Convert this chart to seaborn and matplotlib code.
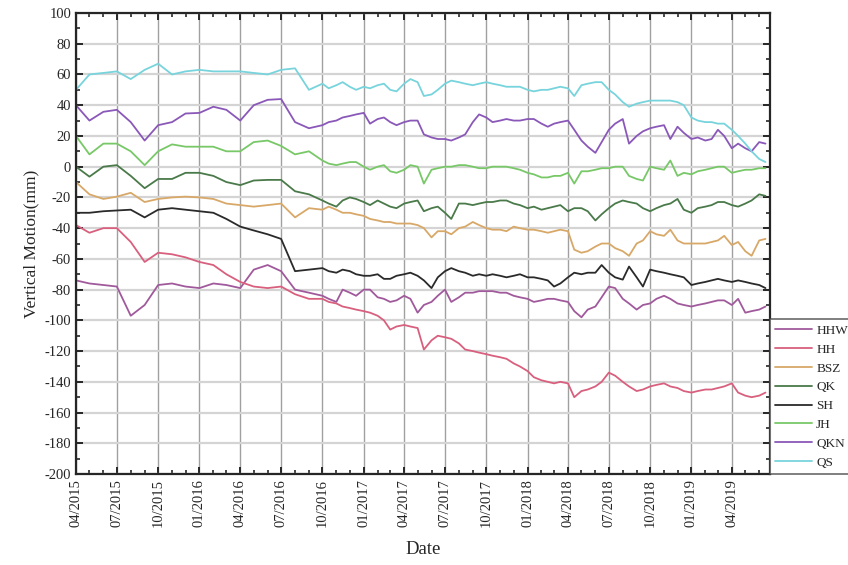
import matplotlib
matplotlib.use("Agg")
import matplotlib.pyplot as plt
import matplotlib.dates as mdates
from matplotlib.ticker import MultipleLocator
import pandas as pd
import seaborn as sns

# sampling dates: monthly until 09/2016, then twice a month
dates = list(pd.date_range("2015-04-01", "2016-09-01", freq="MS")) + \
        list(pd.date_range("2016-10-01", "2019-06-15", freq="SMS"))

stations = ["HHW", "HH", "BSZ", "QK", "SH", "JH", "QKN", "QS"]
colors = ["#a05a9c", "#d8607e", "#d8a868", "#4a7a4a", "#2a2a2a", "#78c868", "#8a58b8", "#78d4dc"]

hhw = [-74, -76, -77, -78, -97, -90, -77, -76, -78, -79, -76, -77, -79, -67, -64, -68, -80, -82,
       -84, -86, -88, -80, -82, -84,
       -80, -80, -85, -86, -88, -87,
       -84, -86, -95, -90, -88, -84,
       -80, -88, -85, -82, -82, -81,
       -81, -81, -82, -82, -84, -85,
       -86, -88, -87, -86, -86, -87,
       -88, -94, -98, -93, -91, -85,
       -78, -79, -86, -89, -93, -90,
       -89, -86, -84, -86, -89, -90,
       -91, -90, -89, -88, -87, -87,
       -90, -86, -95, -94, -93, -91]
hh = [-38, -43, -40, -40, -49, -62, -56, -57, -59, -62, -64, -70, -75, -78, -79, -78, -83, -86,
      -86, -88, -89, -91, -92, -93,
      -94, -95, -97, -100, -106, -104,
      -103, -104, -105, -119, -113, -110,
      -111, -112, -115, -119, -120, -121,
      -122, -123, -124, -125, -128, -130,
      -133, -137, -139, -140, -141, -140,
      -141, -150, -146, -145, -143, -140,
      -134, -136, -140, -143, -146, -145,
      -143, -142, -141, -143, -144, -146,
      -147, -146, -145, -145, -144, -143,
      -141, -147, -149, -150, -149, -147]
bsz = [-10, -18, -21, -19.5, -17, -23, -21, -20, -19.5, -20, -21, -24, -25, -26, -25, -24, -33, -27,
       -28, -26, -28, -30, -30, -31,
       -32, -34, -35, -36, -36, -37,
       -37, -37, -38, -40, -46, -42,
       -42, -44, -40, -39, -36, -38,
       -40, -41, -41, -42, -39, -40,
       -41, -41, -42, -43, -42, -41,
       -42, -54, -56, -55, -52, -50,
       -50, -53, -55, -58, -50, -48,
       -42, -44, -45, -41, -48, -50,
       -50, -50, -50, -49, -48, -45,
       -51, -49, -55, -58, -48, -47]
qk = [0, -6.5, 0, 1, -6, -14, -8, -8, -4, -4, -6, -10, -12, -9, -8.6, -8.6, -16, -18,
      -22, -24, -26, -22, -20, -21,
      -23, -25, -22, -24, -26, -27,
      -24, -23, -22, -29, -27, -26,
      -30, -34, -24, -24, -25, -24,
      -23, -23, -22, -22, -24, -25,
      -27, -26, -28, -27, -26, -25,
      -29, -27, -27, -29, -35, -31,
      -27, -24, -22, -23, -24, -27,
      -29, -27, -25, -24, -21, -28,
      -30, -27, -26, -25, -23, -23,
      -25, -26, -24, -22, -18, -19]
sh = [-30, -30, -29, -28.5, -28, -33, -28, -27, -28, -29, -30, -34, -39, -41.5, -44, -47, -68, -67,
      -66, -68, -69, -67, -68, -70,
      -71, -71, -70, -73, -73, -71,
      -70, -69, -71, -74, -79, -72,
      -68, -66, -68, -69, -71, -70,
      -71, -70, -71, -72, -71, -70,
      -72, -72, -73, -74, -78, -76,
      -72, -69, -70, -69, -69, -64,
      -69, -72, -73.5, -65, -72, -78,
      -67, -68, -69, -70, -71, -72,
      -77, -76, -75, -74, -73, -74,
      -75, -74, -75, -76, -77, -79]
jh = [20, 8, 15, 15, 10, 1, 10, 14.5, 13, 13, 13, 10, 10, 16, 17, 13.5, 8, 10,
      4, 2, 1, 2, 3, 3,
      0, -2, 0, 1, -3, -4,
      -2, 1, 0, -11, -2, -1,
      0, 0, 1, 1, 0, -1,
      -1, 0, 0, 0, -1, -2,
      -4, -5, -7, -7, -6, -6,
      -4, -11, -3, -3, -2, -1,
      -1, 0, 0, -6, -8, -9,
      0, -1, -2, 4, -6, -4,
      -5, -3, -2, -1, 0, 0,
      -4, -3, -2, -2, -1, -1]
qkn = [40, 30, 35.7, 37, 29, 17, 27, 29, 34.6, 35, 39, 37, 30, 40, 43.5, 44, 29, 25,
       27, 29, 30, 32, 33, 34,
       35, 28, 31, 32, 29, 27,
       29, 30, 30, 21, 19, 18,
       18, 17, 19, 21, 29, 34,
       32, 29, 30, 31, 30, 30,
       31, 31, 28, 26, 28, 29,
       30, 24, 17, 13, 9, 16,
       24, 28, 31, 15, 20, 23,
       25, 26, 27, 18, 26, 22,
       18, 19, 17, 18, 24, 20,
       12, 15, 12, 10, 16, 15]
qs = [50, 60, 61, 62, 57, 63, 67, 60, 62, 63, 62, 62, 62, 61, 60, 63, 64, 50,
      54, 51, 53, 55, 52, 50,
      52, 51, 53, 54, 50, 49,
      54, 57, 55, 46, 47, 50,
      54, 56, 55, 54, 53, 54,
      55, 54, 53, 52, 52, 52,
      50, 49, 50, 50, 51, 52,
      51, 46, 53, 54, 55, 55,
      50, 47, 42, 39, 41, 42,
      43, 43, 43, 43, 42, 40,
      32, 30, 29, 29, 28, 28,
      24, 20, 15, 10, 5, 3]

series = [hhw, hh, bsz, qk, sh, jh, qkn, qs]
df = pd.concat([pd.DataFrame({"date": dates, "value": v, "station": s})
                for s, v in zip(stations, series)], ignore_index=True)

sns.set_style("ticks")
plt.rcParams["font.family"] = ["Liberation Serif", "DejaVu Serif"]
plt.rcParams["axes.unicode_minus"] = False

fig = plt.figure(figsize=(8.48, 5.65), dpi=100)
ax = fig.add_axes([0.0896, 0.161, 0.8184, 0.816])

sns.lineplot(data=df, x="date", y="value", hue="station", hue_order=stations,
             palette=colors, linewidth=1.3, ax=ax)

ax.set_xlim(pd.Timestamp("2015-04-01"), pd.Timestamp("2019-06-25"))
ax.set_ylim(-200, 100)
ax.yaxis.set_major_locator(MultipleLocator(20))
ax.yaxis.set_minor_locator(MultipleLocator(10))
ax.xaxis.set_major_locator(mdates.MonthLocator(bymonth=[1, 4, 7, 10]))
ax.xaxis.set_minor_locator(mdates.MonthLocator())
ax.xaxis.set_major_formatter(mdates.DateFormatter("%m/%Y"))
plt.setp(ax.get_xticklabels(), rotation=90)

ax.grid(axis="x", which="major", color="#a0a0a0", linewidth=1.0)
ax.grid(axis="y", which="major", color="#d4d4d4", linewidth=1.6)
ax.set_axisbelow(True)

ax.tick_params(which="both", direction="in", top=True, right=True, labelsize=10.5)
ax.tick_params(which="major", length=5, width=1.4)
ax.tick_params(which="minor", length=3, width=1.2)
for sp in ax.spines.values():
    sp.set_linewidth(1.6)

ax.set_xlabel("Date", fontsize=13.5, labelpad=10)
ax.set_ylabel("Vertical Motion(mm)", fontsize=12.5)

leg = ax.legend(loc="lower left", bbox_to_anchor=(1.0, 0.0), borderaxespad=0,
                fontsize=9.5, frameon=True, fancybox=False, edgecolor="#444444",
                handlelength=2.8, labelspacing=0.5, handletextpad=0.3)
leg.get_frame().set_linewidth(1.2)

fig.savefig("out.png", dpi=100)
